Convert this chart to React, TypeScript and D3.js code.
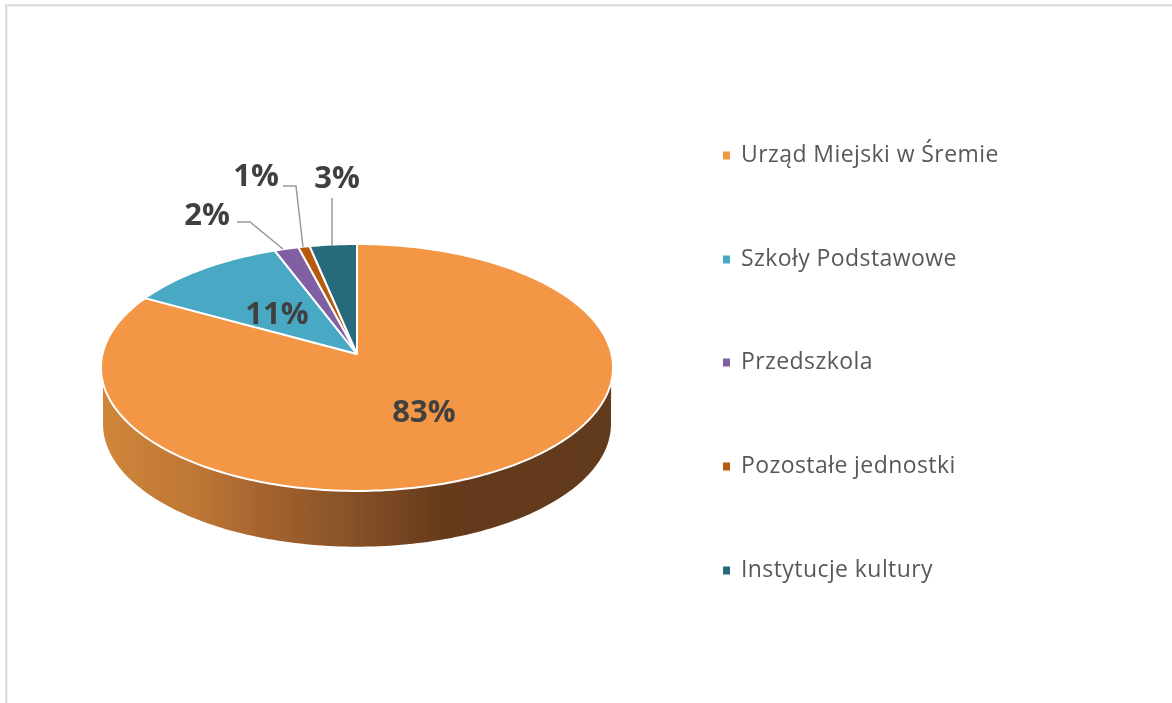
import React from 'react';
import * as d3 from 'd3';

const categories = ['Urząd Miejski w Śremie', 'Szkoły Podstawowe', 'Przedszkola', 'Pozostałe jednostki', 'Instytucje kultury'];
const values = [83, 11.2, 1.7, 0.8, 3.3];
const labels = ['83%', '11%', '2%', '1%', '3%'];
const colors = ['#f39645', '#4aa9c4', '#8060a3', '#b85a0c', '#276a7c'];
const legendY = [155, 259, 362, 466, 570];

const apex = { x: 357, y: 354 };
const A = 254.5, B = 122, K = 0.109;
const WALL_R = 0.992, WALL_DY = 57;

// perspective projection of the unit disc onto the screen
function proj(theta: number, r = 1, dy = 0): [number, number] {
  const u = r * Math.sin(theta), v = r * Math.cos(theta);
  const d = 1 + K * v;
  return [apex.x + (A * u) / d, apex.y - (B * v) / d + dy];
}

const pieGen = d3.pie<number>().sort(null).value((d) => d);
const arcs = pieGen(values);
const line = d3.line();

function slicePath(a0: number, a1: number) {
  const n = Math.max(2, Math.ceil((a1 - a0) / 0.02));
  const scale = d3.scaleLinear().domain([0, n]).range([a0, a1]);
  const pts = d3.range(n + 1).map((i) => proj(scale(i)));
  return line([[apex.x, apex.y], ...pts, [apex.x, apex.y]]) + 'Z';
}

function wallPath() {
  const top = d3.range(1.8, 2 * Math.PI - 1.8 + 0.001, 0.02).map((t) => proj(t));
  const bottom = d3.range(2 * Math.PI - 1.68, 1.68 - 0.001, -0.02).map((t) => proj(t, WALL_R, WALL_DY));
  return line([...top, ...bottom]) + 'Z';
}

const wallStops: [number, string][] = [
  [0, '#d08639'],
  [0.19, '#bd7634'],
  [0.3, '#a8652f'],
  [0.47, '#8a5428'],
  [0.67, '#653a1c'],
  [1, '#623a1c'],
];

const leaders: [number, number][][] = [
  [[237, 222], [250, 222], [283, 249]],
  [[283, 186], [296, 186], [303, 247]],
  [[332, 198], [332, 245]],
];
const labelPos: [number, number, number][] = [
  [424, 411, 0],
  [277, 313, 1],
  [207, 214, 2],
  [256, 175, 3],
  [337, 177, 4],
];

export default function App() {
  return (
    <svg width={1172} height={703} viewBox="0 0 1172 703" style={{ position: 'fixed', left: 0, top: 0, background: '#fff' }}>
      <defs>
        <linearGradient id="wall" x1="101" x2="613" y1="0" y2="0" gradientUnits="userSpaceOnUse">
          {wallStops.map(([o, c]) => <stop key={o} offset={o} stopColor={c} />)}
        </linearGradient>
        <filter id="soft" x="-5%" y="-5%" width="110%" height="110%">
          <feGaussianBlur stdDeviation="0.7" />
        </filter>
      </defs>
      <path d="M1172 5.3 H6.2 V703" fill="none" stroke="#dfdfdf" strokeWidth={2.4} />
      <g filter="url(#soft)">
        <path d={wallPath()} fill="url(#wall)" />
        {arcs.map((a, i) => (
          <path key={i} d={slicePath(a.startAngle, a.endAngle)} fill={colors[i]} stroke="#fff" strokeWidth={2} strokeLinejoin="round" />
        ))}
        {leaders.map((l, i) => (
          <path key={i} d={line(l) as string} fill="none" stroke="#9a9a9a" strokeWidth={1.5} />
        ))}
        {labelPos.map(([x, y, i]) => (
          <text key={i} x={x} y={y} dy="0.35em" textAnchor="middle" fontFamily="'Open Sans', 'Noto Sans', sans-serif" fontWeight={700} fontSize={31} fill="#404040">
            {labels[i]}
          </text>
        ))}
        {categories.map((c, i) => (
          <g key={c}>
            <rect x={723} y={legendY[i] - 3.5} width={7} height={8} fill={colors[i]} />
            <text x={741} y={legendY[i] - 1} dy="0.35em" fontFamily="'Open Sans', 'Noto Sans', sans-serif" fontSize={23} letterSpacing={0.42} fill="#595959">
              {c}
            </text>
          </g>
        ))}
      </g>
    </svg>
  );
}
